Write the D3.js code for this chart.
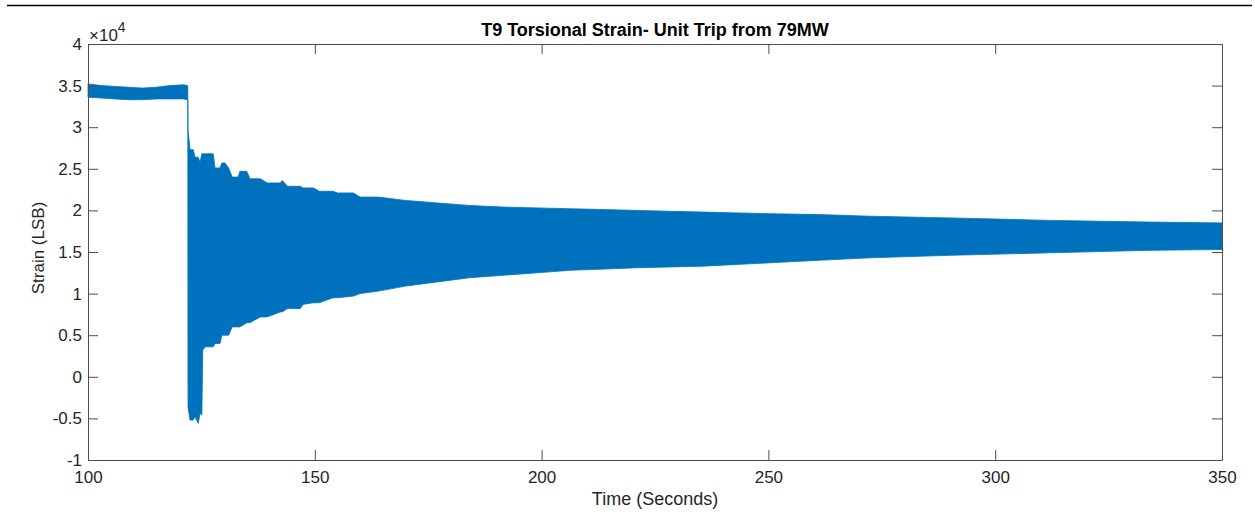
<!DOCTYPE html>
<html>
<head>
<meta charset="utf-8">
<script src="https://cdn.jsdelivr.net/npm/d3@7"></script>
<style>
  body { margin: 0; background: #fff; }
  svg { display: block; font-family: "Liberation Sans", Arial, Helvetica, sans-serif; }
</style>
</head>
<body>
<svg id="chart"></svg>
<script>
// envelope of the strain signal (values in LSB)
const timeSec = [
    100, 103, 106, 109, 112, 115, 118, 121, 122.0,
    122.05, 122.5, 123.2, 123.6, 124.3, 124.7, 125.1, 125.3, 125.8, 127.6,
    128.0, 129.1, 129.5, 130.2, 131.0, 131.8, 133.1, 133.5, 135.0, 135.7,
    138.0, 139.5, 142.4, 142.8, 144.0, 146.8, 147.4, 149.7, 151.0, 154.0,
    155.0, 158.5, 160.0, 164.0, 170, 177, 184, 191.5, 199, 206.3,
    214, 221, 228, 235.6, 243, 250.4, 261, 272.5, 290, 312, 334, 350
];
const upperLSB = [
    35200, 35000, 34900, 34800, 34700, 34800, 35000, 35100, 35000,
    29700, 27300, 27300, 26400, 26400, 25800, 26800, 26800, 26800, 26800,
    25100, 25100, 25700, 25700, 25100, 24000, 24000, 24700, 24700, 23800,
    23800, 23300, 23300, 23600, 22900, 22900, 22700, 22700, 22300, 22300,
    22100, 22100, 21600, 21600, 21200, 20900, 20600, 20400, 20300, 20200,
    20100, 20000, 19900, 19800, 19700, 19600, 19500, 19300, 19100, 18800, 18600, 18500
];
const lowerLSB = [
    33600, 33500, 33400, 33300, 33300, 33400, 33400, 33400, 33300,
    -3700, -5200, -5200, -4800, -5600, -4400, -4600, 3200, 3600, 3600,
    4000, 4000, 5000, 5000, 5000, 6000, 6000, 6000, 6500, 6500,
    7200, 7200, 7800, 7800, 8200, 8200, 8700, 8900, 8900, 9500,
    9500, 9700, 10000, 10300, 10900, 11400, 11900, 12200, 12500, 12800,
    12950, 13100, 13200, 13300, 13500, 13700, 14000, 14300, 14600, 14900, 15200, 15300
];
const xTicks = [100, 150, 200, 250, 300, 350];
const yTicks = [-10000, -5000, 0, 5000, 10000, 15000, 20000, 25000, 30000, 35000, 40000];

const W = 1255, H = 514;
const margin = { top: 44, right: 33, bottom: 54, left: 88 };
const width = W - margin.left - margin.right,
      height = H - margin.top - margin.bottom;

const svg = d3.select("#chart").attr("width", W).attr("height", H);

// rule across the top of the page
svg.append("line")
    .attr("x1", 7).attr("x2", 1252).attr("y1", 5.5).attr("y2", 5.5)
    .attr("stroke", "#000").attr("stroke-width", 1.5);

const g = svg.append("g").attr("transform", `translate(${margin.left},${margin.top})`);

const x = d3.scaleLinear().domain([100, 350]).range([0, width]);
const y = d3.scaleLinear().domain([-10000, 40000]).range([height, 0]);

const data = timeSec.map((t, i) => ({ t: t, hi: upperLSB[i], lo: lowerLSB[i] }));

const area = d3.area()
    .x(d => x(d.t))
    .y0(d => y(d.lo))
    .y1(d => y(d.hi));

g.append("path")
    .datum(data)
    .attr("d", area)
    .attr("fill", "#0072BD")
    .attr("stroke", "#0072BD")
    .attr("stroke-width", 0.8)
    .attr("stroke-linejoin", "round");

// axes, MATLAB style: box, ticks pointing in
const axisColor = "#4d4d4d";
const fmt = v => String(v / 10000);   // plain hyphen for negatives, like MATLAB

function styleAxis(sel) {
    sel.select(".domain").attr("stroke", axisColor);
    sel.selectAll(".tick line").attr("stroke", axisColor);
    sel.selectAll(".tick text").attr("fill", "#262626").style("font-size", "17px");
    sel.attr("font-family", null);
}

g.append("g")
    .attr("transform", `translate(0,${height})`)
    .call(d3.axisBottom(x).tickValues(xTicks).tickSize(-10).tickSizeOuter(0).tickPadding(11))
    .call(styleAxis);

g.append("g")
    .call(d3.axisTop(x).tickValues(xTicks).tickSize(-10).tickSizeOuter(0).tickFormat(""))
    .call(styleAxis);

g.append("g")
    .call(d3.axisLeft(y).tickValues(yTicks).tickSize(-10).tickSizeOuter(0).tickPadding(6).tickFormat(fmt))
    .call(styleAxis);

g.append("g")
    .attr("transform", `translate(${width},0)`)
    .call(d3.axisRight(y).tickValues(yTicks).tickSize(-10).tickSizeOuter(0).tickFormat(""))
    .call(styleAxis);

// exponent label
const expo = svg.append("text")
    .attr("x", 89).attr("y", 41)
    .attr("fill", "#262626")
    .style("font-size", "17px");
expo.append("tspan").text("\u00d710");
expo.append("tspan").attr("dy", -9).style("font-size", "14px").text("4");

// title
svg.append("text")
    .attr("x", margin.left + width / 2).attr("y", 36)
    .attr("text-anchor", "middle")
    .attr("fill", "#000")
    .style("font-size", "18px").style("font-weight", "bold")
    .text("T9 Torsional Strain- Unit Trip from 79MW");

// axis labels
svg.append("text")
    .attr("x", margin.left + width / 2).attr("y", 505)
    .attr("text-anchor", "middle")
    .attr("fill", "#262626")
    .style("font-size", "18px")
    .text("Time (Seconds)");

svg.append("text")
    .attr("transform", `translate(44,248) rotate(-90)`)
    .attr("text-anchor", "middle")
    .attr("fill", "#262626")
    .style("font-size", "17px")
    .text("Strain (LSB)");
</script>
</body>
</html>
